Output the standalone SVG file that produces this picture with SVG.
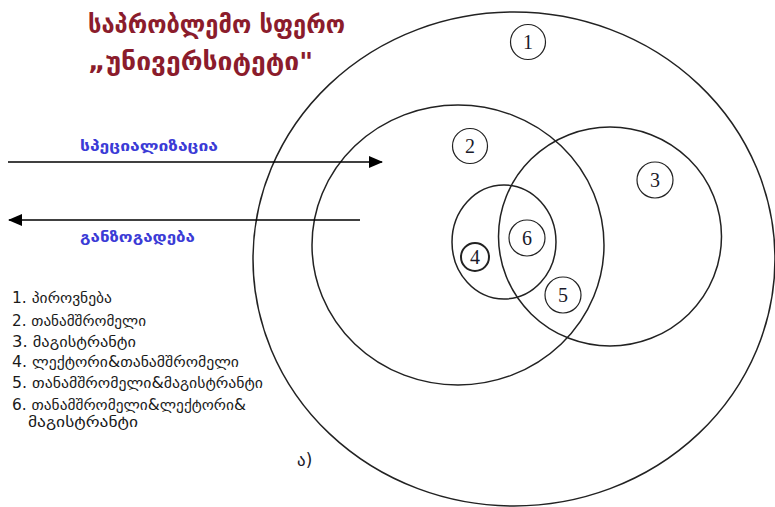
<svg xmlns="http://www.w3.org/2000/svg" width="775" height="507" viewBox="0 0 775 507">
<defs>
<marker id="ah" markerWidth="14" markerHeight="12" refX="13" refY="6" orient="auto" markerUnits="userSpaceOnUse">
<path d="M0,0 L14,6 L0,12 Z" fill="#000"/>
</marker>
<style>
.set{fill:none;stroke:#222;stroke-width:1.5}
.tag{fill:#fff;stroke:#222;stroke-width:1.2}
.num{font-family:"Liberation Serif",serif;font-size:20px;fill:#1a1a2a;text-anchor:middle}
.geo{font-family:"DejaVu Sans","Noto Sans",sans-serif}
.title{font-size:25px;fill:#8b1c2c;font-weight:bold}
.dir{font-size:15px;fill:#3b3bd6;font-weight:bold}
.leg{font-size:15px;fill:#1a1a1a}
.line{stroke:#000;stroke-width:1.5}
</style>
</defs>
<rect width="775" height="507" fill="#fff"/>
<g id="title">
<text class="geo title" x="88" y="33" textLength="257" lengthAdjust="spacingAndGlyphs">საპრობლემო სფერო</text>
<text class="geo title" x="88" y="70" textLength="225" lengthAdjust="spacingAndGlyphs">„უნივერსიტეტი"</text>
</g>
<g id="set1"><ellipse class="set" cx="514" cy="259" rx="261" ry="247"/><circle class="tag" cx="528" cy="42" r="17.5"/><text class="num" x="528" y="49">1</text></g>
<g id="set2"><ellipse class="set" cx="458" cy="245" rx="146" ry="140"/><circle class="tag" cx="470" cy="146" r="17.5"/><text class="num" x="470" y="153">2</text></g>
<g id="set3"><ellipse class="set" cx="610" cy="236.5" rx="111.5" ry="109.5"/><circle class="tag" cx="655" cy="180" r="18"/><text class="num" x="655" y="187">3</text></g>
<g id="set4"><ellipse class="set" cx="504" cy="242" rx="52" ry="57"/><circle class="tag" cx="475" cy="257" r="14" style="stroke-width:2"/><text class="num" x="475" y="264">4</text></g>
<g id="set6"><circle class="tag" cx="527" cy="238" r="18" style="fill:none"/><text class="num" x="527" y="245">6</text></g>
<g id="set5"><circle class="tag" cx="563" cy="295" r="18" style="fill:none"/><text class="num" x="563" y="302">5</text></g>
<g id="connectors">
<line class="line" x1="8" y1="162" x2="382" y2="162" marker-end="url(#ah)"/>
<line class="line" x1="360" y1="220" x2="9" y2="220" marker-end="url(#ah)"/>
</g>
<g id="labels">
<text class="geo dir" x="80" y="151" textLength="138" lengthAdjust="spacingAndGlyphs">სპეციალიზაცია</text>
<text class="geo dir" x="80" y="242" textLength="115" lengthAdjust="spacingAndGlyphs">განზოგადება</text>
</g>
<g id="legend" class="geo leg">
<text x="12" y="303" textLength="100" lengthAdjust="spacingAndGlyphs">1. პიროვნება</text>
<text x="12" y="326" textLength="134" lengthAdjust="spacingAndGlyphs">2. თანამშრომელი</text>
<text x="12" y="347" textLength="124" lengthAdjust="spacingAndGlyphs">3. მაგისტრანტი</text>
<text x="12" y="367" textLength="227" lengthAdjust="spacingAndGlyphs">4. ლექტორი&amp;თანამშრომელი</text>
<text x="12" y="388" textLength="251" lengthAdjust="spacingAndGlyphs">5. თანამშრომელი&amp;მაგისტრანტი</text>
<text x="12" y="410" textLength="234" lengthAdjust="spacingAndGlyphs">6. თანამშრომელი&amp;ლექტორი&amp;</text>
<text x="28" y="427" textLength="110" lengthAdjust="spacingAndGlyphs">მაგისტრანტი</text>
</g>
<text class="geo" x="297" y="466" style="font-size:17px;fill:#1a1a2a">ა)</text>
</svg>
